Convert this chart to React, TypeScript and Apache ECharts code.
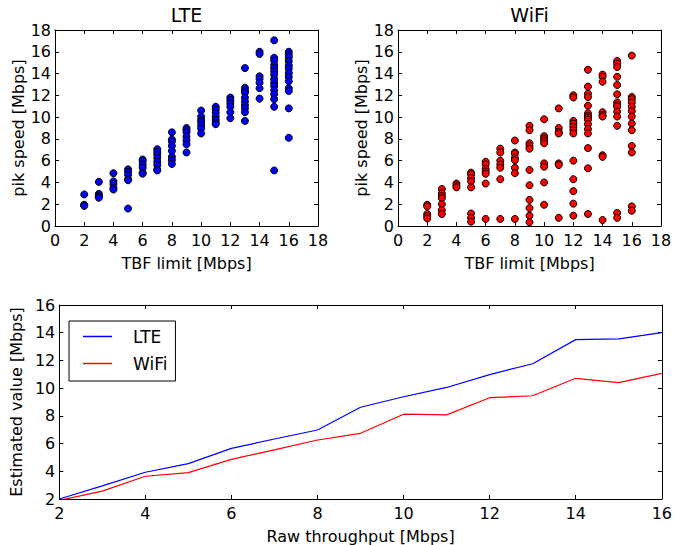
import React, { useEffect, useRef } from "react";
import * as echarts from "echarts";

// TBF limit columns (Mbps)
const tbfLimits = [2, 3, 4, 5, 6, 7, 8, 9, 10, 11, 12, 13, 14, 15, 16];

// LTE pik speed measurements per TBF limit
const ltePik2 = [2.9, 1.95, 1.9, 1.85];
const ltePik3 = [4.05, 2.95, 2.8, 2.7, 2.6];
const ltePik4 = [4.85, 4.1, 3.85, 3.5, 3.35];
const ltePik5 = [5.2, 5.0, 4.7, 4.3, 4.2, 1.6];
const ltePik6 = [6.1, 5.95, 5.65, 5.35, 4.9, 4.8];
const ltePik7 = [7.05, 6.8, 6.55, 6.25, 5.9, 5.6, 5.2, 5.1];
const ltePik8 = [8.6, 7.95, 7.75, 7.35, 6.9, 6.35, 6.05, 5.7];
const ltePik9 = [9.0, 8.8, 8.6, 8.2, 7.85, 7.5, 6.75];
const ltePik10 = [10.6, 10.05, 9.75, 9.55, 9.25, 8.95, 8.5];
const ltePik11 = [10.95, 10.7, 10.4, 10.05, 9.75, 9.5, 9.35];
const ltePik12 = [11.8, 11.55, 11.25, 10.95, 10.45, 9.9];
const ltePik13 = [14.5, 12.7, 12.45, 12.25, 11.8, 11.45, 11.1, 10.8, 10.45, 9.65];
const ltePik14 = [16.0, 15.8, 13.75, 13.5, 13.15, 12.65, 11.7];
const ltePik15 = [17.05, 15.45, 15.2, 14.8, 14.5, 14.2, 13.9, 13.5, 13.15, 12.85, 12.45, 12.1, 11.65, 10.95, 5.1];
const ltePik16 = [16.0, 15.75, 15.5, 15.15, 14.75, 14.45, 14.05, 13.7, 13.3, 12.65, 12.4, 10.8, 8.1];

// WiFi pik speed measurements per TBF limit
const wifiPik2 = [1.95, 1.8, 1.1, 0.9, 0.7];
const wifiPik3 = [3.4, 3.0, 2.75, 2.55, 2.0, 1.45, 1.1];
const wifiPik4 = [3.9, 3.7, 3.55];
const wifiPik5 = [4.9, 4.75, 4.4, 4.1, 3.55, 1.15, 0.75, 0.4];
const wifiPik6 = [5.9, 5.65, 5.25, 5.0, 4.8, 3.9, 0.65];
const wifiPik7 = [7.1, 6.75, 6.0, 5.65, 5.35, 4.3, 0.65];
const wifiPik8 = [7.85, 6.75, 6.65, 6.25, 6.05, 5.35, 4.85, 0.65];
const wifiPik9 = [9.2, 8.8, 7.6, 7.35, 7.1, 5.15, 3.75, 2.4, 1.65, 0.95, 0.35];
const wifiPik10 = [9.8, 8.25, 8.05, 7.85, 7.6, 5.75, 5.45, 4.0, 1.95];
const wifiPik11 = [10.8, 9.0, 8.65, 8.5, 5.75, 5.6, 0.75];
const wifiPik12 = [12.0, 11.8, 9.65, 9.4, 9.1, 8.8, 8.5, 6.0, 4.3, 3.2, 2.05, 0.95];
const wifiPik13 = [14.35, 12.8, 12.15, 11.85, 11.05, 10.35, 10.1, 9.95, 9.75, 9.35, 8.9, 8.5, 7.15, 5.3, 1.1];
const wifiPik14 = [13.9, 13.7, 13.25, 10.45, 10.2, 10.05, 6.5, 6.35, 0.55];
const wifiPik15 = [15.15, 14.9, 14.6, 13.7, 12.95, 12.1, 11.35, 11.1, 10.95, 10.5, 10.05, 9.2, 1.2, 0.75];
const wifiPik16 = [15.65, 11.85, 11.65, 11.35, 10.95, 10.55, 10.05, 9.4, 8.8, 7.35, 6.75, 1.8, 1.4];

// Bottom panel
const rawThroughput = [2, 3, 4, 5, 6, 7, 8, 9, 10, 11, 12, 13, 14, 15, 16];
const lteEstimated = [2.0, 2.95, 3.93, 4.55, 5.65, 6.33, 6.98, 8.62, 9.38, 10.05, 10.98, 11.76, 13.5, 13.55, 14.0];
const wifiEstimated = [1.9, 2.57, 3.64, 3.9, 4.86, 5.55, 6.26, 6.74, 8.12, 8.07, 9.31, 9.45, 10.71, 10.4, 11.07];

// Tick settings
const topTicks = { min: 0, max: 18, interval: 2 };
const bottomTicks = { min: 2, max: 16, interval: 2 };

const lteColumns = [ltePik2, ltePik3, ltePik4, ltePik5, ltePik6, ltePik7, ltePik8, ltePik9, ltePik10, ltePik11, ltePik12, ltePik13, ltePik14, ltePik15, ltePik16];
const wifiColumns = [wifiPik2, wifiPik3, wifiPik4, wifiPik5, wifiPik6, wifiPik7, wifiPik8, wifiPik9, wifiPik10, wifiPik11, wifiPik12, wifiPik13, wifiPik14, wifiPik15, wifiPik16];

const FONT = "DejaVu Sans";

function toPairs(cols: number[][]) {
  const out: number[][] = [];
  cols.forEach((vals, i) => vals.forEach((v) => out.push([tbfLimits[i], v])));
  return out;
}

function makeXAxes(gridIndex: number, ticks: any, name: string) {
  const common = {
    type: "value",
    gridIndex,
    min: ticks.min,
    max: ticks.max,
    interval: ticks.interval,
    splitLine: { show: false },
    axisLine: { show: true, onZero: false, lineStyle: { color: "#000", width: 1 } },
    axisTick: { show: true, inside: true, length: 4, lineStyle: { color: "#000", width: 1 } },
  };
  return [
    {
      ...common,
      position: "bottom",
      axisLabel: { color: "#000", fontSize: 16, fontFamily: FONT, margin: 6 },
      name,
      nameLocation: "middle",
      nameGap: 29,
      nameTextStyle: { color: "#000", fontSize: 16, fontFamily: FONT },
    },
    { ...common, position: "top", axisLabel: { show: false } },
  ];
}

function makeYAxes(gridIndex: number, ticks: any, name: string) {
  const common = {
    type: "value",
    gridIndex,
    min: ticks.min,
    max: ticks.max,
    interval: ticks.interval,
    splitLine: { show: false },
    axisLine: { show: true, onZero: false, lineStyle: { color: "#000", width: 1 } },
    axisTick: { show: true, inside: true, length: 4, lineStyle: { color: "#000", width: 1 } },
  };
  return [
    {
      ...common,
      position: "left",
      axisLabel: { color: "#000", fontSize: 16, fontFamily: FONT, margin: 4 },
      name,
      nameLocation: "middle",
      nameGap: 29,
      nameTextStyle: { color: "#000", fontSize: 16, fontFamily: FONT },
    },
    { ...common, position: "right", axisLabel: { show: false } },
  ];
}

export default function App() {
  const ref = useRef<HTMLDivElement>(null);

  useEffect(() => {
    if (!ref.current) return;
    const chart = echarts.init(ref.current, null, { renderer: "svg" });
    const titleStyle = { color: "#000", fontSize: 19, fontWeight: "normal", fontFamily: FONT };
    const option = {
      animation: false,
      backgroundColor: "#fff",
      title: [
        { text: "LTE", left: 186.5, top: 5, textAlign: "center", padding: 0, textStyle: titleStyle },
        { text: "WiFi", left: 529.5, top: 5, textAlign: "center", padding: 0, textStyle: titleStyle },
      ],
      grid: [
        { left: 55, top: 30, width: 263, height: 196 },
        { left: 398, top: 30, width: 263, height: 196 },
        { left: 55, top: 305, width: 607, height: 195 },
      ],
      xAxis: [
        ...makeXAxes(0, topTicks, "TBF limit [Mbps]"),
        ...makeXAxes(1, topTicks, "TBF limit [Mbps]"),
        ...makeXAxes(2, bottomTicks, "Raw throughput [Mbps]"),
      ],
      yAxis: [
        ...makeYAxes(0, topTicks, "pik speed [Mbps]"),
        ...makeYAxes(1, topTicks, "pik speed [Mbps]"),
        ...makeYAxes(2, bottomTicks, "Estimated value [Mbps]"),
      ],
      legend: {
        left: 69,
        top: 321,
        orient: "vertical",
        data: ["LTE", "WiFi"],
        icon: "rect",
        itemWidth: 29,
        itemHeight: 1.5,
        itemGap: 10,
        padding: [7, 8, 9, 14],
        borderColor: "#000",
        borderWidth: 1,
        borderRadius: 0,
        backgroundColor: "#fff",
        textStyle: { color: "#000", fontSize: 17, fontFamily: FONT, padding: [0, 0, 0, 16] },
      },
      series: [
        {
          type: "scatter",
          name: "LTE pik",
          xAxisIndex: 0,
          yAxisIndex: 0,
          data: toPairs(lteColumns),
          symbol: "circle",
          symbolSize: 7,
          itemStyle: { color: "#0000ff", borderColor: "#000", borderWidth: 1, opacity: 1 },
        },
        {
          type: "scatter",
          name: "WiFi pik",
          xAxisIndex: 2,
          yAxisIndex: 2,
          data: toPairs(wifiColumns),
          symbol: "circle",
          symbolSize: 7,
          itemStyle: { color: "#ff0000", borderColor: "#000", borderWidth: 1, opacity: 1 },
        },
        {
          type: "line",
          name: "LTE",
          xAxisIndex: 4,
          yAxisIndex: 4,
          data: rawThroughput.map((x, i) => [x, lteEstimated[i]]),
          symbol: "none",
          clip: true,
          color: "#0000ff",
          lineStyle: { color: "#0000ff", width: 1.2 },
        },
        {
          type: "line",
          name: "WiFi",
          xAxisIndex: 4,
          yAxisIndex: 4,
          data: rawThroughput.map((x, i) => [x, wifiEstimated[i]]),
          symbol: "none",
          clip: true,
          color: "#ff0000",
          lineStyle: { color: "#ff0000", width: 1.2 },
        },
      ],
    };
    chart.setOption(option as any);
    return () => chart.dispose();
  }, []);

  return (
    <div
      ref={ref}
      style={{ position: "absolute", left: 0, top: 0, width: 675, height: 545 }}
    />
  );
}
